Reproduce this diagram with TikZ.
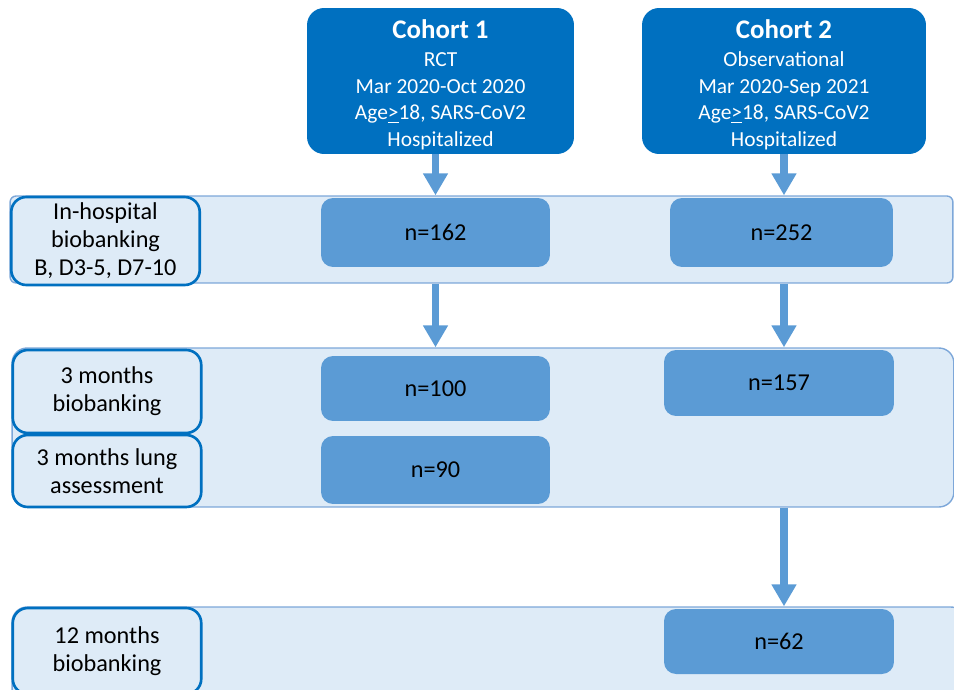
\documentclass[tikz,border=0pt]{standalone}
\usepackage{fontspec}
\setmainfont{Carlito}
\usetikzlibrary{arrows.meta}
\definecolor{dkblue}{HTML}{0070C0}
\definecolor{midblue}{HTML}{5B9BD5}
\definecolor{ltblue}{HTML}{DEEBF7}
\definecolor{bandline}{HTML}{7DA7D9}
\begin{document}
\begin{tikzpicture}[x=0.02cm,y=-0.02cm,
  cohort/.style={fill=dkblue, rounded corners=0.34cm, text=white, align=center,
    font=\fontsize{12.2}{15}\selectfont, inner sep=0pt, minimum height=2.92cm},
  band/.style={draw=bandline, line width=0.8pt, fill=ltblue, inner sep=0pt},
  lbl/.style={draw=dkblue, line width=1.5pt, fill=ltblue, rounded corners=0.3cm,
    align=center, font=\fontsize{13.8}{15.9}\selectfont, inner sep=0pt,
    minimum width=3.77cm},
  nbox/.style={fill=midblue, rounded corners=0.24cm,
    font=\fontsize{13.8}{16}\selectfont, inner sep=0pt},
  flow/.style={draw=midblue, line width=4.5pt,
    -{Triangle[width=13.5pt,length=12.5pt]}}]
\useasboundingbox (0,0) rectangle (954,690);
\clip (0,0) rectangle (954,690);

% bands
\node[band, rounded corners=0.12cm, minimum width=18.86cm, minimum height=1.74cm] (band1) at (481.5,239.5) {};
\node[band, rounded corners=0.3cm, minimum width=18.84cm, minimum height=3.18cm] (band2) at (483,427.5) {};
\node[band, rounded corners=0.3cm, minimum width=19.08cm, minimum height=2.26cm] (band3) at (489,663.5) {};

% row labels
\node[lbl, minimum height=1.76cm] (l1) at (105.5,241) {In-hospital\\biobanking\\B, D3-5, D7-10};
\node[lbl, minimum height=1.66cm] (l2) at (107,391.5) {3 months\\biobanking};
\node[lbl, minimum height=1.44cm] (l3) at (107,471) {3 months lung\\assessment};
\node[lbl, minimum height=1.72cm] (l4) at (107,651) {12 months\\biobanking};

% counts
\node[nbox, minimum width=4.58cm, minimum height=1.38cm] (n162) at (435.5,232.5) {n=162};
\node[nbox, minimum width=4.46cm, minimum height=1.38cm] (n252) at (781.5,232.5) {n=252};
\node[nbox, minimum width=4.58cm, minimum height=1.30cm] (n100) at (435.5,388.5) {n=100};
\node[nbox, minimum width=4.58cm, minimum height=1.36cm] (n90) at (435.5,470) {n=90};
\node[nbox, minimum width=4.60cm, minimum height=1.32cm] (n157) at (779,383) {n=157};
\node[nbox, minimum width=4.60cm, minimum height=1.30cm] (n62) at (779,641.5) {n=62};

% cohorts
\node[cohort, minimum width=5.34cm] (c1) at (440.5,81)
  {\rule{0pt}{15pt}{\fontsize{15.3}{18}\bfseries Cohort 1}\\[1pt] RCT\\ Mar 2020-Oct 2020\\ Age\underline{>}18, SARS-CoV2\\ Hospitalized};
\node[cohort, minimum width=5.68cm] (c2) at (784,81)
  {\rule{0pt}{15pt}{\fontsize{15.3}{18}\bfseries Cohort 2}\\[1pt] Observational\\ Mar 2020-Sep 2021\\ Age\underline{>}18, SARS-CoV2\\ Hospitalized};

% arrows
\draw[flow] (c1.south -| n162.north) -- (band1.north -| n162.north);
\draw[flow] (c2.south) -- (band1.north -| c2.south);
\draw[flow] (band1.south -| n162.north) -- (band2.north -| n162.north);
\draw[flow] (band1.south -| c2.south) -- (band2.north -| c2.south);
\draw[flow] (band2.south -| c2.south) -- (band3.north -| c2.south);
\end{tikzpicture}
\end{document}
